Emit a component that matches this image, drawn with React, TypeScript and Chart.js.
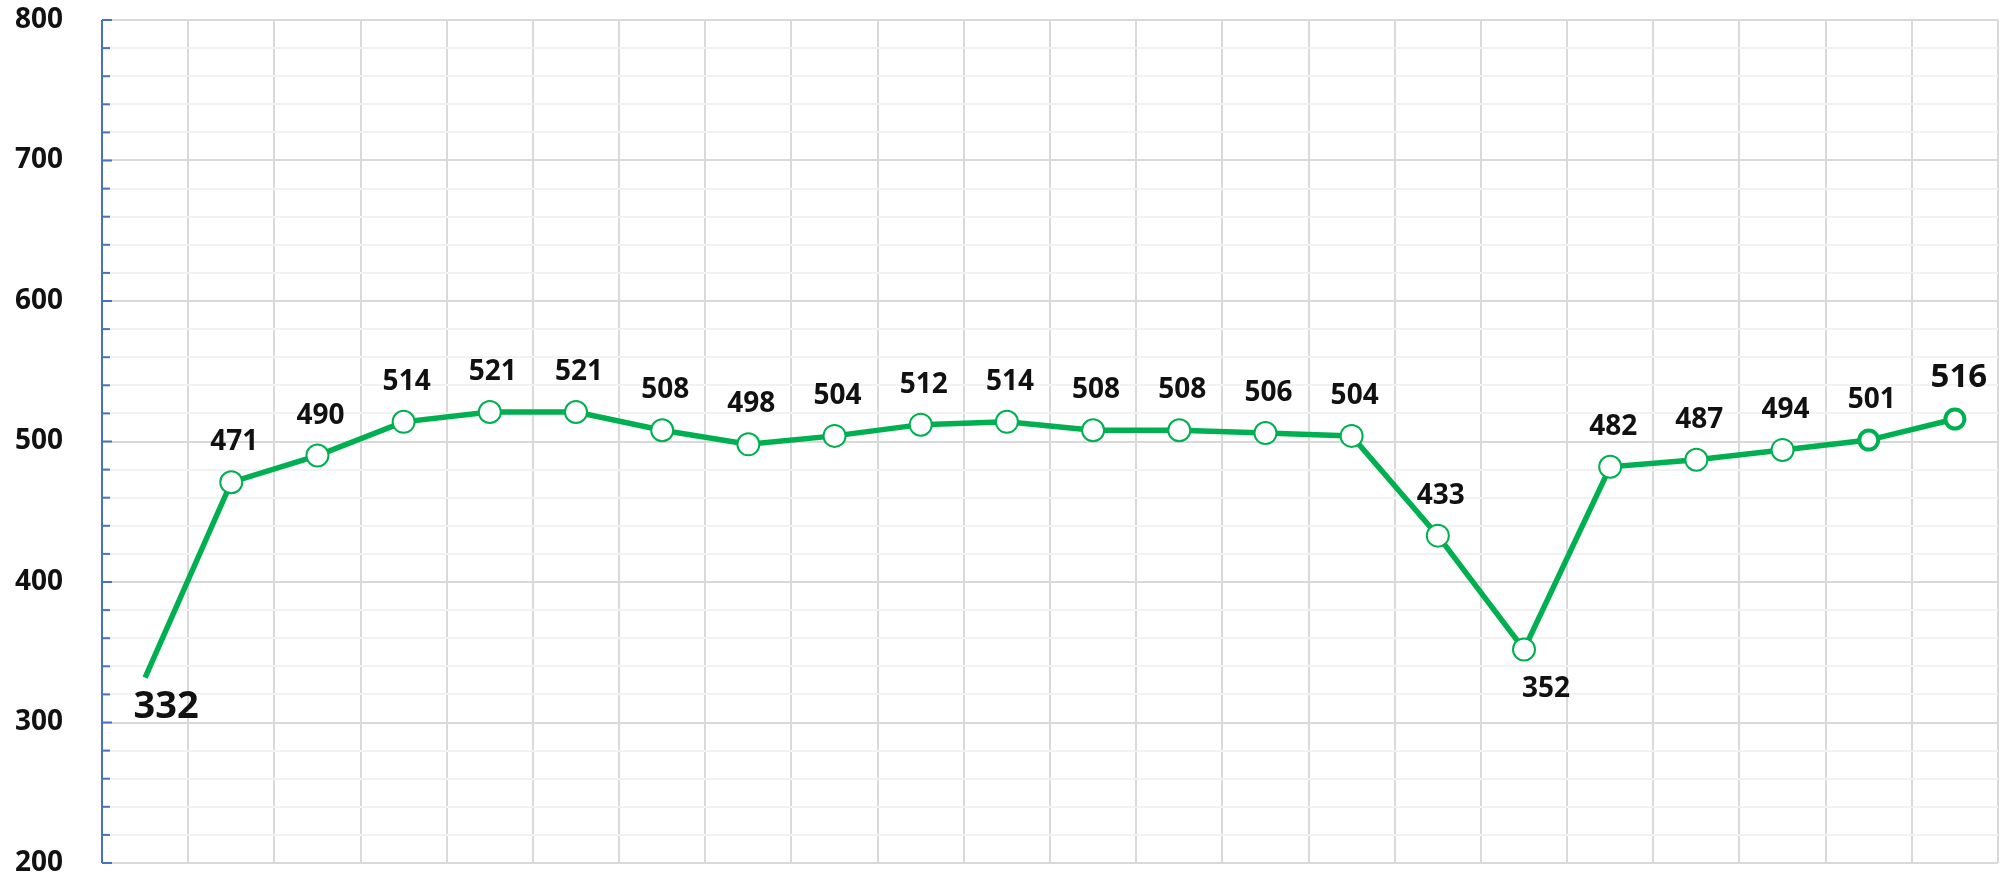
import React, { useEffect, useRef } from "react";
import { Chart, registerables } from "chart.js";

Chart.register(...registerables);

const categories: string[] = [
  "1", "2", "3", "4", "5", "6", "7", "8", "9", "10", "11",
  "12", "13", "14", "15", "16", "17", "18", "19", "20", "21", "22",
];
const values: number[] = [
  332, 471, 490, 514, 521, 521, 508, 498, 504, 512, 514,
  508, 508, 506, 504, 433, 352, 482, 487, 494, 501, 516,
];
const yMin = 200;
const yMax = 800;
const yStep = 20;
const yLabelStep = 100;

const GREEN = "#00B050";
const BLUE = "#4472C4";
const FONT = "'Open Sans', 'Liberation Sans', sans-serif";

const innerTicks = {
  id: "innerTicks",
  beforeDatasetsDraw(chart: any) {
    const { ctx, chartArea, scales } = chart;
    const y = scales.y;
    ctx.save();
    ctx.strokeStyle = BLUE;
    ctx.lineWidth = 2;
    for (let v = yMin; v <= yMax; v += yStep) {
      const py = y.getPixelForValue(v);
      const len = v % yLabelStep === 0 ? 10 : 8;
      ctx.beginPath();
      ctx.moveTo(chartArea.left, py);
      ctx.lineTo(chartArea.left + len, py);
      ctx.stroke();
    }
    ctx.beginPath();
    ctx.moveTo(chartArea.left, chartArea.top);
    ctx.lineTo(chartArea.left, chartArea.bottom);
    ctx.stroke();
    ctx.restore();
  },
};

const dataLabels = {
  id: "dataLabels",
  afterDatasetsDraw(chart: any) {
    const { ctx } = chart;
    const meta = chart.getDatasetMeta(0);
    const last = values.length - 1;
    const lowest = Math.min(...values.slice(1));
    ctx.save();
    ctx.fillStyle = "#111111";
    ctx.textAlign = "center";
    ctx.textBaseline = "alphabetic";
    meta.data.forEach((pt: any, i: number) => {
      let size = 28;
      let dx = 3;
      let dy = -32;
      if (i === 0) {
        size = 38;
        dx = 21;
        dy = 40;
      } else if (values[i] === lowest) {
        dx = 22;
        dy = 48;
      } else if (i === last) {
        size = 33;
        dx = 4;
        dy = -32;
      }
      ctx.font = `bold ${size}px ${FONT}`;
      ctx.fillText(String(values[i]), pt.x + dx, pt.y + dy);
    });
    ctx.restore();
  },
};

export default function App() {
  const ref = useRef<HTMLCanvasElement | null>(null);
  useEffect(() => {
    if (!ref.current) return;
    const last = values.length - 1;
    const chart = new Chart(ref.current, {
      type: "line",
      data: {
        labels: categories,
        datasets: [
          {
            data: values,
            borderColor: GREEN,
            borderWidth: 5.5,
            pointBackgroundColor: "#ffffff",
            pointBorderColor: GREEN,
            pointRadius: (c: any) => (c.dataIndex === 0 ? 0 : c.dataIndex >= last - 1 ? 9.5 : 11),
            pointBorderWidth: (c: any) => (c.dataIndex >= last - 1 ? 4 : 2),
            pointHoverRadius: 10,
            tension: 0,
          },
        ],
      },
      options: {
        responsive: false,
        animation: false,
        devicePixelRatio: 1,
        layout: { padding: { top: 20, bottom: 14, right: 1, left: 0 } },
        plugins: { legend: { display: false }, tooltip: { enabled: false } },
        scales: {
          x: {
            offset: true,
            grid: { offset: true, color: "#D9D9D9", lineWidth: 2, drawTicks: false },
            border: { display: false },
            ticks: { display: false },
          },
          y: {
            min: yMin,
            max: yMax,
            afterFit: (s: any) => {
              s.width = 102;
              s.paddingTop = 0;
              s.paddingBottom = 0;
            },
            grid: {
              drawTicks: false,
              lineWidth: 2,
              color: (c: any) => (c.tick && c.tick.value % yLabelStep === 0 ? "#D9D9D9" : "#F2F2F2"),
            },
            border: { display: false },
            ticks: {
              stepSize: yStep,
              autoSkip: false,
              padding: 39,
              color: "#111111",
              font: { family: FONT, size: 28, weight: "bold", lineHeight: 1 },
              callback: (v: any) => (Number(v) % yLabelStep === 0 ? String(v) : ""),
            },
          },
        },
      },
      plugins: [innerTicks, dataLabels],
    } as any);
    return () => chart.destroy();
  }, []);
  return (
    <div style={{ position: "absolute", left: 0, top: 0, width: 2012, height: 877, background: "#ffffff" }}>
      <canvas ref={ref} width={2012} height={877} style={{ width: 2012, height: 877 }} />
    </div>
  );
}
